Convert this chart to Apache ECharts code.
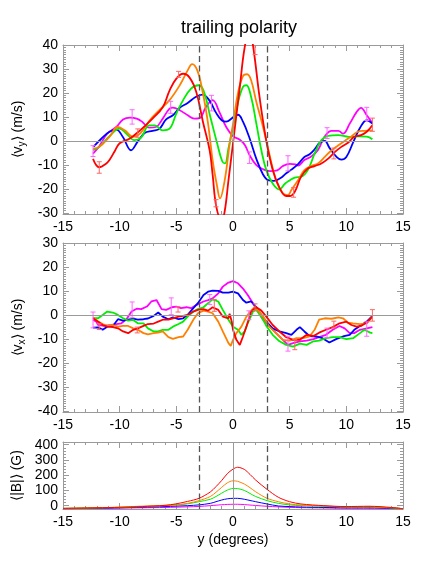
<!DOCTYPE html>
<html>
<head>
<meta charset="utf-8">
<script src="https://cdn.jsdelivr.net/npm/echarts@6.0.0/dist/echarts.min.js"></script>
<style>
  html, body { margin: 0; padding: 0; background: #fff; }
  #chart { width: 425px; height: 566px; }
</style>
</head>
<body>
<div id="chart"></div>
<script>
// tick values
const xMajor = [-15, -10, -5, 0, 5, 10, 15];
const vyMajor = [-30, -20, -10, 0, 10, 20, 30, 40];
const vxMajor = [-40, -30, -20, -10, 0, 10, 20, 30];
const bMajor = [0, 100, 200, 300, 400];
const guideX = [-3, 3];

// <v_y> panel, [y (deg), m/s]
const vyMagenta = [[-12.35,-5.3],[-11.8,-2.2],[-11.1,3],[-10.3,5.8],[-9.7,8.9],[-9.1,9.7],[-8.5,9.3],[-8.0,7.9],[-7.4,5.5],[-6.8,5.8],[-6.2,9.3],[-5.6,13.5],[-5.3,13.9],[-4.7,12.8],[-4.0,10.7],[-3.4,9.3],[-2.94,9.5],[-2.4,14],[-1.8,17],[-1.2,12],[-0.6,5.8],[0,2],[0.6,0.5],[1.03,-1.6],[1.47,-6],[2.06,-10.1],[2.65,-11.8],[3.3,-12.6],[3.9,-12.3],[4.4,-10.5],[5.0,-9.6],[5.5,-9.8],[5.74,-10.3],[6.3,-8],[6.9,-6.5],[7.5,-3.8],[8.1,1.9],[8.7,4.2],[9.3,4.2],[9.7,3],[10.3,7.2],[10.9,12],[11.3,13.8],[11.8,10.7],[12.3,7.5]];
const vyBlue = [[-12.3,-2.4],[-11.6,1],[-10.9,3.8],[-10.3,4.7],[-9.7,1.5],[-9.0,-3.9],[-8.4,-0.2],[-7.8,3.3],[-7.1,4.2],[-6.5,5],[-5.9,9],[-5.3,10.7],[-4.7,13.8],[-4.0,15.8],[-3.3,18.3],[-2.7,19.3],[-2.1,17],[-1.5,11.8],[-1.0,8.6],[-0.6,8],[0,9.8],[0.44,10.9],[0.88,8],[1.47,1],[2.06,-7.5],[2.65,-14],[3.1,-16.4],[3.6,-16.7],[4.2,-15.5],[4.7,-13.5],[5.15,-12],[5.74,-9.7],[6.3,-6.7],[6.76,-5.6],[7.2,-3.5],[7.65,-0.8],[8.1,0],[8.5,-2.8],[9.1,-6.5],[9.56,-7.8],[10.0,-6.7],[10.6,-0.6],[11.2,5.4],[11.8,8.6],[12.3,7.2]];
const vyGreen = [[-12.35,-3.9],[-11.8,-2.5],[-10.9,2],[-10,5.1],[-9.4,3],[-8.7,0.3],[-8.1,1.4],[-7.4,6.5],[-6.9,6.5],[-6.2,4.4],[-5.6,5.1],[-5.0,11.4],[-4.4,17],[-3.7,21.8],[-3.05,23.2],[-2.6,21],[-2.0,10],[-1.4,-1],[-0.95,-8.5],[-0.7,-9.4],[-0.4,-3],[0,5.5],[0.44,16],[0.88,22.5],[1.18,23.2],[1.6,18.3],[2.06,7.2],[2.5,-3.9],[2.94,-12.2],[3.5,-17.8],[4.1,-20.3],[4.56,-18],[5.0,-16.5],[5.45,-15.3],[6.0,-15],[6.6,-12.2],[7.2,-5.3],[7.8,0.3],[8.4,2.1],[9.3,2.4],[10.2,1.7],[11.06,1.9],[11.8,1.8],[12.3,0.7]];
const vyOrange = [[-12.35,-3.2],[-11.8,-2.5],[-10.9,1.7],[-10.15,5.8],[-9.55,4.4],[-8.8,1.7],[-8.2,3],[-7.35,8.6],[-6.5,12.8],[-5.6,17],[-4.7,23.2],[-4.0,29.4],[-3.6,32],[-3.15,29.4],[-2.7,21],[-2.2,7.2],[-1.8,-8],[-1.4,-19],[-1.15,-24],[-0.73,-16.4],[-0.29,-1],[0,7],[0.44,20],[0.88,27],[1.24,27.8],[1.6,25.3],[2.06,16.2],[2.65,5.8],[3.2,-5.3],[3.8,-16.4],[4.4,-21.9],[4.85,-22.6],[5.15,-20.5],[5.74,-16.4],[6.3,-12.2],[6.9,-10.5],[7.5,-9.4],[8.1,-6.7],[8.7,-3.9],[9.3,-1.8],[9.85,0],[10.4,1.7],[11.0,3.8],[11.6,4.2],[12.3,4.4]];
const vyRed = [[-12.35,-7.5],[-11.8,-11],[-11.2,-9.5],[-10.9,-8],[-10.4,-4],[-10,-1],[-9.1,1],[-8.2,4.4],[-7.1,9.3],[-6.2,14],[-5.6,21],[-5.0,26],[-4.4,28],[-3.83,26.4],[-3.24,20.4],[-2.65,7.9],[-2.06,-3.9],[-1.8,-14],[-1.47,-27.5],[-1.0,-33],[-0.74,-29.6],[-0.4,-16.5],[0,-1],[0.3,10.7],[0.6,22.4],[1.03,39],[1.45,46],[1.76,40],[2.35,18],[2.94,0],[3.5,-12],[4.1,-19.5],[4.7,-23],[5.0,-23],[5.45,-21.2],[6.0,-15],[6.6,-11.5],[7.2,-10.5],[7.8,-9.4],[8.4,-7.4],[9.0,-4.6],[9.56,-2.5],[10.15,-0.8],[10.7,1.7],[11.3,2.4],[11.8,3.8],[12.3,6.5]];
// error bars [y, low, high]
const vyErrRed = [[-11.8,-13.5,-8.7],[-8.4,1.5,5],[-4.8,26.5,29],[-1.5,-27.5,-24.5],[1.95,36,41],[5.35,-23.5,-19.5],[8.9,-7.5,-3],[12.3,4,9.5]];
const vyErrMagenta = [[-12.35,-6.5,-2],[-8.9,7,13],[-5.5,11.5,16.5],[-1.9,12.5,19],[1.45,-9.4,-4.6],[4.85,-12.5,-6.2],[8.3,1,5.5],[11.8,8.5,14]];

// <v_x> panel
const vxMagenta = [[-12.35,-2],[-12.06,-2.8],[-11.9,-4.2],[-11.4,-4.6],[-10.7,-4.2],[-10.3,-3.8],[-9.85,-3.5],[-9.4,-1.8],[-8.95,1.4],[-8.5,2.6],[-8.1,2.4],[-7.6,3.5],[-7.2,5.6],[-6.75,6.2],[-6.3,2.4],[-5.9,2.1],[-5.4,3.2],[-5.0,3.5],[-4.6,2.8],[-4.1,3.2],[-3.7,2.8],[-3.2,4.2],[-2.6,5.6],[-2.2,6.2],[-1.8,6.9],[-1.3,9],[-0.9,11.8],[-0.4,13.5],[0,14.1],[0.44,13.2],[0.88,11],[1.3,8.3],[1.76,4.9],[2.2,1.4],[2.65,-2],[3.2,-4.6],[3.8,-7.6],[4.4,-10.4],[4.85,-12.5],[5.3,-11.8],[5.9,-11],[6.5,-10.7],[7.1,-10.1],[7.6,-9.3],[8.2,-8.3],[8.8,-6.2],[9.4,-4.6],[9.85,-5.6],[10.3,-7.6],[10.7,-7.6],[11.2,-6.2],[11.8,-5.6],[12.3,-5.1]];
const vxBlue = [[-12.35,-5.3],[-11.9,-5.2],[-11.5,-6.2],[-11.1,-4.9],[-10.6,-4.6],[-10.15,-1.8],[-9.7,-2.4],[-9.25,-2],[-8.8,-1.5],[-8.4,-2],[-7.9,-1.8],[-7.5,-1.5],[-7.0,-0.4],[-6.6,1],[-6.2,-0.7],[-5.7,-1.8],[-5.3,-1],[-4.8,-1.8],[-4.4,-1.4],[-4.0,0],[-3.5,2.8],[-3.1,4.9],[-2.6,8.3],[-2.2,9.7],[-1.8,10.1],[-1.3,10],[-0.9,9.3],[-0.4,9.3],[0,9.7],[0.44,9],[0.88,6.2],[1.18,5.1],[1.6,5.6],[2.06,3.2],[2.5,0],[2.94,-2.8],[3.5,-5.6],[4.1,-6.9],[4.7,-7.6],[5.15,-8.3],[5.6,-6.2],[5.9,-5.1],[6.3,-6.9],[6.75,-8.8],[7.35,-9],[7.9,-9.7],[8.5,-11.5],[9.1,-10.1],[9.7,-9],[10.3,-8.3],[10.7,-6.2],[11.2,-4.6],[11.8,-2.8],[12.3,-0.4]];
const vxGreen = [[-12.35,-1.4],[-11.9,-1.4],[-11.5,0],[-11.1,1.4],[-10.6,1],[-10.15,0],[-9.7,-1.4],[-9.25,-2.4],[-8.8,-2.1],[-8.4,-3.5],[-7.9,-3.5],[-7.5,-5.6],[-7.0,-6.9],[-6.6,-6.9],[-6.2,-6.2],[-5.7,-6.2],[-5.3,-4.9],[-4.8,-3.8],[-4.4,-2.8],[-4.0,-0.7],[-3.5,1.4],[-3.1,2.4],[-2.6,3.2],[-2.2,4.9],[-1.8,6.5],[-1.3,5.6],[-0.9,2.1],[-0.4,-2],[0,-4.9],[0.44,-6.2],[0.74,-8.3],[1.03,-6.9],[1.3,-3.5],[1.76,1.4],[2.06,2.1],[2.5,-0.7],[2.94,-4.6],[3.5,-8.3],[4.1,-11],[4.7,-12.5],[5.3,-13.2],[5.9,-12],[6.5,-12.5],[7.1,-11],[7.6,-10.7],[8.2,-9.7],[8.8,-9.3],[9.4,-9.3],[10.0,-10.1],[10.6,-9.7],[11.2,-7.6],[11.6,-6.2],[12.1,-7.4],[12.3,-7.6]];
const vxOrange = [[-12.35,-1],[-11.9,-2.8],[-11.5,-3.8],[-11.1,-4.6],[-10.6,-4.2],[-10.15,-4.9],[-9.7,-4.6],[-9.25,-4.6],[-8.8,-5.6],[-8.4,-6.2],[-7.9,-7.6],[-7.5,-8.1],[-7.0,-7.6],[-6.6,-7.4],[-6.2,-6.9],[-5.7,-9.3],[-5.3,-10],[-4.8,-9.3],[-4.4,-9],[-4.0,-6.2],[-3.5,-2],[-3.1,0.7],[-2.6,1.8],[-2.2,1.4],[-1.8,0.7],[-1.3,-2.8],[-0.9,-6.9],[-0.4,-11.8],[-0.2,-12.9],[0,-10.4],[0.3,-7.6],[0.74,-4.9],[1.18,-0.7],[1.6,1.8],[1.9,3.2],[2.2,2.1],[2.65,-0.7],[3.2,-4.9],[3.8,-7.6],[4.4,-10.4],[5.0,-10.7],[5.6,-9.7],[6.2,-9.7],[6.75,-9],[7.2,-6.2],[7.6,-2],[8.1,-1.4],[8.7,-1.6],[9.3,-1],[9.7,-1.4],[10.15,-3.2],[10.6,-3.5],[11.2,-3.8],[11.8,-3.5],[12.3,-0.7]];
const vxRed = [[-12.35,-1.4],[-11.9,-2.8],[-11.5,-4.2],[-11.1,-4.9],[-10.6,-5.1],[-10.15,-5.6],[-9.7,-6.9],[-9.25,-7.6],[-8.8,-6.2],[-8.4,-5.6],[-7.9,-4.6],[-7.5,-3.8],[-7.0,-3.6],[-6.6,-2.8],[-6.2,-2],[-5.7,-2],[-5.3,-1.4],[-4.8,-0.7],[-4.4,-0.4],[-4.0,0],[-3.5,1.4],[-3.1,2.1],[-2.6,2.4],[-2.2,1.8],[-1.8,3.2],[-1.3,2.1],[-0.9,-0.7],[-0.4,-1.4],[-0.3,0.5],[-0.1,-3],[0,-6.2],[0.3,-10.4],[0.6,-12.5],[0.88,-9],[1.18,-4.9],[1.6,1.4],[2.06,3.2],[2.5,1.8],[2.94,-0.7],[3.5,-4.2],[4.1,-6.9],[4.7,-9.3],[5.3,-10.4],[5.9,-10.4],[6.5,-8.3],[7.1,-8.8],[7.6,-7.4],[8.2,-6.2],[8.8,-5.1],[9.4,-3.5],[10.0,-2.8],[10.45,-4.2],[10.9,-4.9],[11.3,-4.6],[11.8,-3.2],[12.3,-0.7]];
const vxErrRed = [[-11.8,-6.1,-3.7],[-8.45,-7.5,-5.1],[-4.85,1.2,3.4],[-1.65,1.5,6.4],[1.95,1.8,4.6],[5.45,-14.5,-10.3],[8.9,-5.4,-2.6],[12.3,-2.6,2.2]];
const vxErrMagenta = [[-12.35,-5.4,1.2],[-8.9,-1.2,5.4],[-5.45,0.1,7.1],[-2.05,4.3,8.5],[1.4,-2,1.7],[4.85,-15.1,-8.9],[8.3,-9.5,-5.5],[11.8,-8.9,-2.9]];

// <|B|> panel
const bY = [-15,-12,-10,-8,-6,-5,-4,-3,-2,-1.5,-1,-0.5,0,0.4,1,1.5,2,3,4,5,6,8,10,12,14,15];
const bRed =     [-18,-14,-11,-6,2,12,28,48,90,125,165,210,240,252,238,205,168,107,55,26,11,0,-6,-4,-12,-20];
const bOrange =  [-18,-14,-10,-3,2,5,15,33,60,88,120,150,163,160,142,118,91,48,26,11,4,-2,-8,-8,-14,-20];
const bGreen =   [-18,-14,-11,-6,0,5,12,26,42,60,82,102,113,112,100,80,60,33,15,5,0,-4,-8,-8,-14,-20];
const bBlue =    [-20,-17,-14,-10,-6,-3,0,5,15,26,37,45,48,48,42,34,26,11,-2,-6,-9,-12,-14,-14,-17,-20];
const bMagenta = [-20,-18,-16,-14,-12,-10,-8,-5,0,3,6,8,9,9,7,4,1,-4,-8,-11,-13,-15,-17,-17,-19,-20];

const FONT = 'Liberation Sans';
const GRAY = '#9a9a9a';
const C = { red: '#ff0000', orange: '#ff8000', green: '#00ee00', blue: '#0000ff', magenta: '#ff00ff' };

function range(a, b, step) {
  const out = [];
  for (let v = a; v <= b + 1e-9; v += step) out.push(Math.round(v * 100) / 100);
  return out;
}

const panels = [
  { top: 45, height: 169, min: -30.5, max: 40, major: vyMajor, minor: range(-30, 40, 1),
    name: '{t|⟨v}{s|y}{t|⟩ (m/s)}' },
  { top: 243, height: 169, min: -40.5, max: 30, major: vxMajor, minor: range(-40, 30, 1),
    name: '{t|⟨v}{s|x}{t|⟩ (m/s)}' },
  { top: 442, height: 67, min: -22, max: 418, major: bMajor, minor: range(0, 400, 20),
    name: '{t|⟨|B|⟩ (G)}' }
];

const nameStyle = {
  color: '#000', fontFamily: FONT, fontSize: 14,
  rich: {
    t: { color: '#000', fontFamily: FONT, fontSize: 14 },
    s: { color: '#000', fontFamily: FONT, fontSize: 10, padding: [7, 0, 0, 0] }
  }
};

function axisSet(dim, gi, min, max, major, minor, extra) {
  const near = dim === 'x' ? 'bottom' : 'left';
  const far = dim === 'x' ? 'top' : 'right';
  const line = { show: true, onZero: false, lineStyle: { color: GRAY, width: 1 } };
  const base = {
    type: 'value', gridIndex: gi, min: min, max: max,
    splitLine: { show: false }, axisLine: { show: false, onZero: false },
    axisLabel: { show: false }, axisTick: { show: false }
  };
  const ticks = (vals, len) => ({
    show: true, inside: true, length: len, customValues: vals,
    lineStyle: { color: GRAY, width: 1 }
  });
  const main = Object.assign({}, base, {
    position: near, axisLine: line, axisTick: ticks(major, 6),
    axisLabel: {
      show: true, customValues: major, color: '#000',
      fontFamily: FONT, fontSize: 14, margin: dim === 'x' ? 6 : 5
    }
  }, extra || {});
  return [
    main,
    Object.assign({}, base, { position: near, axisTick: ticks(minor, 3) }),
    Object.assign({}, base, { position: far, axisLine: line, axisTick: ticks(major, 6) }),
    Object.assign({}, base, { position: far, axisTick: ticks(minor, 3) })
  ];
}

const grids = [], xAxes = [], yAxes = [];
panels.forEach((p, i) => {
  grids.push({ left: 63, right: 22, top: p.top, height: p.height, outerBoundsMode: 'none' });
  const xName = i === 2
    ? { name: 'y (degrees)', nameLocation: 'middle', nameGap: 24,
        nameTextStyle: { color: '#000', fontFamily: FONT, fontSize: 14 } }
    : null;
  xAxes.push(...axisSet('x', i, -15, 15, xMajor, range(-15, 15, 1), xName));
  yAxes.push(...axisSet('y', i, p.min, p.max, p.major, p.minor, {
    name: p.name, nameLocation: 'middle', nameRotate: 90, nameGap: 36, nameTextStyle: nameStyle
  }));
});

function line(gi, data, color, width, smooth) {
  return {
    type: 'line', xAxisIndex: 4 * gi, yAxisIndex: 4 * gi, data: data,
    symbol: 'none', showSymbol: false, smooth: smooth, clip: true, silent: true,
    lineStyle: { color: color, width: width }, itemStyle: { color: color }, z: 3
  };
}

function errBars(gi, data, color) {
  return {
    type: 'custom', xAxisIndex: 4 * gi, yAxisIndex: 4 * gi, data: data,
    encode: { x: 0, y: [1, 2] }, clip: true, silent: true, z: 4,
    renderItem: function (params, api) {
      const lo = api.coord([api.value(0), api.value(1)]);
      const hi = api.coord([api.value(0), api.value(2)]);
      const w = 2.5;
      const st = { stroke: color, lineWidth: 1 };
      return {
        type: 'group',
        children: [
          { type: 'line', shape: { x1: lo[0], y1: lo[1], x2: hi[0], y2: hi[1] }, style: st },
          { type: 'line', shape: { x1: lo[0] - w, y1: lo[1], x2: lo[0] + w, y2: lo[1] }, style: st },
          { type: 'line', shape: { x1: hi[0] - w, y1: hi[1], x2: hi[0] + w, y2: hi[1] }, style: st }
        ]
      };
    }
  };
}

function guides(gi, zeroY) {
  const marks = guideX.map(v => ({ xAxis: v, lineStyle: { color: '#555', width: 1.3, type: [6, 3.5] } }));
  marks.push({ xAxis: 0, lineStyle: { color: GRAY, width: 1, type: 'solid' } });
  if (zeroY) marks.push({ yAxis: 0, lineStyle: { color: GRAY, width: 1, type: 'solid' } });
  return {
    type: 'line', xAxisIndex: 4 * gi, yAxisIndex: 4 * gi, data: [], z: 1, silent: true,
    markLine: { silent: true, symbol: ['none', 'none'], label: { show: false }, animation: false, data: marks }
  };
}

const pair = (xs, ys) => xs.map((x, k) => [x, ys[k]]);

const series = [
  guides(0, true),
  line(0, vyMagenta, C.magenta, 1.8, 0.4),
  line(0, vyBlue, C.blue, 1.8, 0.4),
  line(0, vyGreen, C.green, 1.8, 0.4),
  line(0, vyOrange, C.orange, 1.8, 0.4),
  line(0, vyRed, C.red, 1.8, 0.4),
  errBars(0, vyErrMagenta, '#ff66ff'),
  errBars(0, vyErrRed, '#ff6666'),

  guides(1, true),
  line(1, vxMagenta, C.magenta, 1.8, false),
  line(1, vxBlue, C.blue, 1.8, false),
  line(1, vxGreen, C.green, 1.8, false),
  line(1, vxOrange, C.orange, 1.8, false),
  line(1, vxRed, C.red, 1.8, false),
  errBars(1, vxErrMagenta, '#ff66ff'),
  errBars(1, vxErrRed, '#ff6666'),

  guides(2, false),
  line(2, pair(bY, bMagenta), C.magenta, 1, 0.3),
  line(2, pair(bY, bBlue), C.blue, 1, 0.3),
  line(2, pair(bY, bGreen), C.green, 1, 0.3),
  line(2, pair(bY, bOrange), C.orange, 1, 0.3),
  line(2, pair(bY, bRed), C.red, 1, 0.3)
];

const chart = echarts.init(document.getElementById('chart'), null, { renderer: 'canvas' });
chart.setOption({
  animation: false,
  backgroundColor: '#fff',
  title: {
    text: 'trailing polarity', left: 176, top: 14,
    textStyle: { color: '#000', fontFamily: FONT, fontSize: 18, fontWeight: 'normal' }
  },
  grid: grids,
  xAxis: xAxes,
  yAxis: yAxes,
  series: series
});
</script>
</body>
</html>
